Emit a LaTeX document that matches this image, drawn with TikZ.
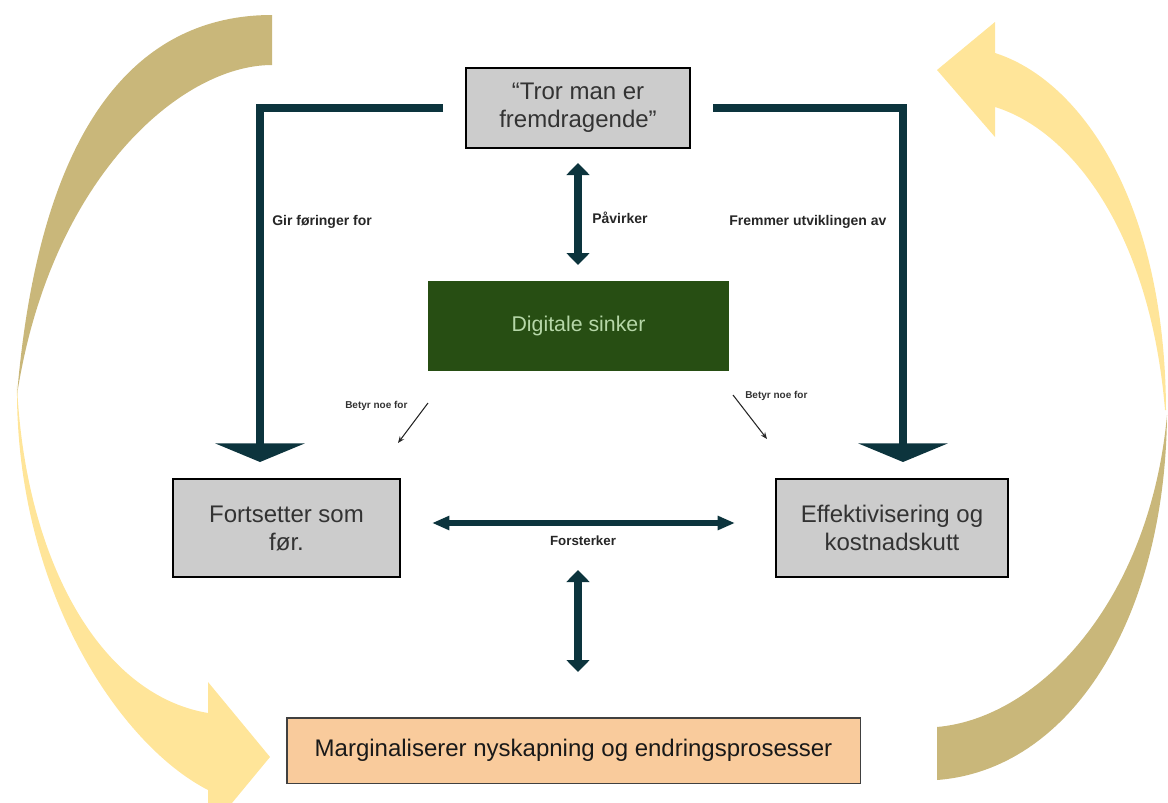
\documentclass[tikz,border=0pt]{standalone}
\usepackage{fontspec}
\setmainfont{Liberation Sans}
\usetikzlibrary{arrows.meta}
\definecolor{darkteal}{HTML}{0C343D}
\definecolor{darkgold}{RGB}{201,183,122}
\definecolor{lightyel}{RGB}{255,229,153}
\definecolor{boxgrey}{HTML}{CCCCCC}
\definecolor{txtgrey}{HTML}{333333}
\definecolor{sinkgreen}{HTML}{274E13}
\definecolor{sinktext}{HTML}{B6D7A8}
\definecolor{peach}{HTML}{F9CB9C}
\begin{document}
\begin{tikzpicture}[x=0.75pt,y=-0.75pt,
  greybox/.style={draw=black, line width=1.5pt, fill=boxgrey, align=center,
    text=txtgrey, font=\fontsize{18}{21}\selectfont, inner sep=0pt},
  elbow/.style={draw=darkteal, line width=6pt, line join=miter,
    -{Triangle[width=67pt,length=14pt]}},
  dblv/.style={draw=darkteal, line width=6pt,
    {Triangle[width=17pt,length=9pt]}-{Triangle[width=17pt,length=9pt]}},
  dblh/.style={draw=darkteal, line width=4.5pt,
    {Triangle[width=10pt,length=13pt]}-{Triangle[width=10pt,length=13pt]}},
  thin/.style={draw=black!85, line width=0.8pt, -{Stealth[length=5pt,width=4pt]}},
  lbl/.style={font=\fontsize{10.5}{12}\selectfont\bfseries, text=black!85, inner sep=0pt},
  small/.style={font=\fontsize{7.5}{9}\selectfont\bfseries, text=black!80, inner sep=0pt}
]
\useasboundingbox (0,0) rectangle (1168,803);
\begin{scope}
\clip (0,0) rectangle (1168,803);
% left cycle arrow
\fill[darkgold] (272,15) .. controls (140,15) and (40,120) .. (17,395)
  .. controls (50,180) and (180,65) .. (272,65) -- cycle;
\fill[lightyel] (17,385) .. controls (25,560) and (100,695) .. (208,713)
  -- (208,682) -- (270,757) -- (208,832) -- (208,790)
  .. controls (120,745) and (15,590) .. (17,385) -- cycle;
% right cycle arrow
\fill[lightyel] (1166,410) .. controls (1165,200) and (1080,80) .. (995,53)
  -- (995,22) -- (937,70) -- (995,137) -- (995,107)
  .. controls (1070,130) and (1150,230) .. (1165,410) -- cycle;
\fill[darkgold] (1167,415) .. controls (1165,620) and (1070,770) .. (937,780)
  -- (937,727) .. controls (1040,718) and (1150,600) .. (1167,415) -- cycle;
\end{scope}

% nodes
\node[greybox, minimum width=168pt, minimum height=60pt] (top) at (578,108)
  {“Tror man er\\fremdragende\char"22};
\node[fill=sinkgreen, minimum width=226pt, minimum height=67.5pt, inner sep=0pt,
  text=sinktext, font=\fontsize{16}{19}\selectfont] (dig) at (578.5,326) {Digitale sinker};
\node[greybox, minimum width=170pt, minimum height=73.5pt] (fort) at (286.5,528)
  {Fortsetter som\\før.};
\node[greybox, minimum width=174pt, minimum height=73.5pt] (eff) at (892,528)
  {Effektivisering og\\kostnadskutt};
\node[draw=black!75, line width=1pt, fill=peach, minimum width=430pt, minimum height=49pt,
  inner sep=0pt, text=black!90, font=\fontsize{18}{21}\selectfont] (marg) at (573.5,750.5)
  {Marginaliserer nyskapning og endringsprosesser};

% elbow arrows
\coordinate (ls) at (443,108);
\coordinate (le) at (260,462);
\coordinate (rs) at (713,108);
\coordinate (re) at (903,462);
\draw[elbow] (ls) -| (le);
\draw[elbow] (rs) -| (re);

% Påvirker
\coordinate (pa) at (578,163);
\coordinate (pb) at (578,265);
\draw[dblv] (pa) -- (pb);
\node[lbl, anchor=west] (plbl) at (592,218) {Påvirker};

% Forsterker
\coordinate (fa) at (432,523);
\coordinate (fb) at (735,523);
\draw[dblh] (fa) -- (fb);
\node[lbl, font=\fontsize{10}{12}\selectfont\bfseries] (flbl) at (583,541) {Forsterker};

% lower vertical
\coordinate (va) at (578,570);
\coordinate (vb) at (578,672);
\draw[dblv] (va) -- (vb);

% labels on elbows
\node[lbl, anchor=west] (gir) at (272,222) {Gir føringer for};
\node[lbl, anchor=west] (frem) at (729,222) {Fremmer utviklingen av};

% Betyr noe for
\coordinate (b1a) at (428,403);
\coordinate (b1b) at (398,443);
\coordinate (b2a) at (733,395);
\coordinate (b2b) at (767,439);
\draw[thin] (b1a) -- (b1b);
\draw[thin] (b2a) -- (b2b);
\node[small, anchor=west] (bl1) at (345,406) {Betyr noe for};
\node[small, anchor=west] (bl2) at (745,396) {Betyr noe for};
\end{tikzpicture}
\end{document}
